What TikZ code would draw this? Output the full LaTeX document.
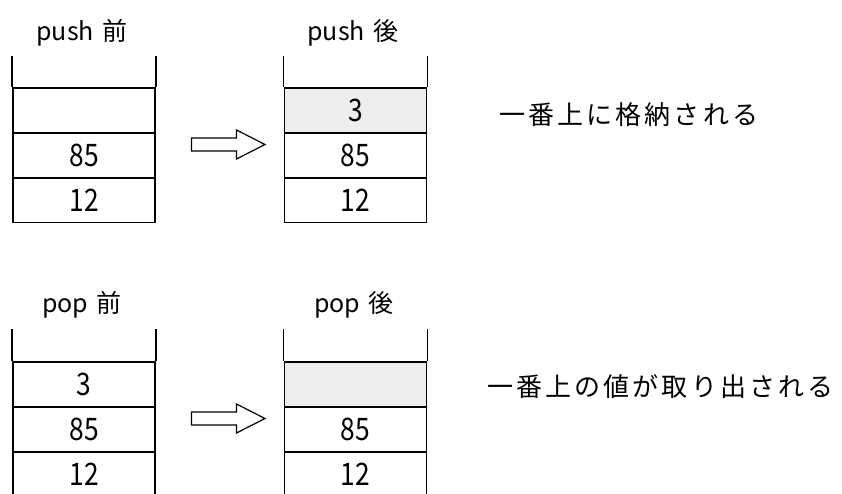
\documentclass[tikz,border=0pt]{standalone}
\usepackage{fontspec}
\setmainfont{Noto Sans CJK JP}
\newfontfamily\notefont[LetterSpace=12]{Noto Sans CJK JP}
\definecolor{cellgray}{HTML}{EEEEEE}
% narrow digits for the stack cells
\newcommand\cellnum[1]{\scalebox{0.85}[1]{#1}}
\begin{document}
\begin{tikzpicture}[x=1pt,y=-1pt,
  cell/.style={draw, line width=1.2pt, minimum width=142pt, minimum height=45pt,
    inner sep=0pt, font=\fontsize{31}{31}\selectfont},
  topcell/.style={cell, line width=1.9pt},
  wall/.style={line width=1.4pt},
  title/.style={font=\fontsize{25}{25}\selectfont, inner sep=0pt},
  note/.style={font=\fontsize{26}{26}\notefont, anchor=west, inner sep=0pt},
  blockarrow/.style={draw, line width=1.2pt, fill=white, line join=miter}]
\clip (0,0) rectangle (842,493);
\fill[white] (0,0) rectangle (842,493);

% ---------- push ----------
\node[title] (t1) at (82,33) {push\hspace{0.35em}前};
\node[title] (t2) at (353,33) {push\hspace{0.35em}後};

\node[cell] (a3) at (84,200) {\cellnum{12}};
\node[cell] (a2) at (84,155.5) {\cellnum{85}};
\node[topcell] (a1) at (84,110.5) {};
\draw[wall] (a1.north west) -- ++(0,-31);
\draw[wall] (a1.north east) -- ++(0,-31);

\node[cell] (b3) at (355.5,200) {\cellnum{12}};
\node[cell] (b2) at (355.5,155.5) {\cellnum{85}};
\node[topcell, fill=cellgray] (b1) at (355.5,110.5) {\cellnum{3}};
\draw[wall] (b1.north west) -- ++(0,-31);
\draw[wall] (b1.north east) -- ++(0,-31);

\coordinate (p0) at (191.5,144.5);
\draw[blockarrow] (p0) ++(0,-6.5) -- ++(45,0) -- ++(0,-8) -- ++(28.5,14.5)
  -- ++(-28.5,14.5) -- ++(0,-8) -- ++(-45,0) -- cycle;

\node[note] (n1) at (499,115) {一番上に格納される};

% ---------- pop ----------
\node[title] (t3) at (82,305) {pop\hspace{0.35em}前};
\node[title] (t4) at (354,305) {pop\hspace{0.35em}後};

\node[cell] (c3) at (84,474.5) {\cellnum{12}};
\node[cell] (c2) at (84,429.5) {\cellnum{85}};
\node[topcell] (c1) at (84,384.5) {\cellnum{3}};
\draw[wall] (c1.north west) -- ++(0,-32);
\draw[wall] (c1.north east) -- ++(0,-32);

\node[cell] (d3) at (355.5,474.5) {\cellnum{12}};
\node[cell] (d2) at (355.5,429.5) {\cellnum{85}};
\node[topcell, fill=cellgray] (d1) at (355.5,384.5) {};
\draw[wall] (d1.north west) -- ++(0,-32);
\draw[wall] (d1.north east) -- ++(0,-32);

\coordinate (q0) at (191.5,418.5);
\draw[blockarrow] (q0) ++(0,-6.5) -- ++(45,0) -- ++(0,-8) -- ++(28.5,14.5)
  -- ++(-28.5,14.5) -- ++(0,-8) -- ++(-45,0) -- cycle;

\node[note] (n2) at (487,387) {一番上の値が取り出される};
\end{tikzpicture}
\end{document}
